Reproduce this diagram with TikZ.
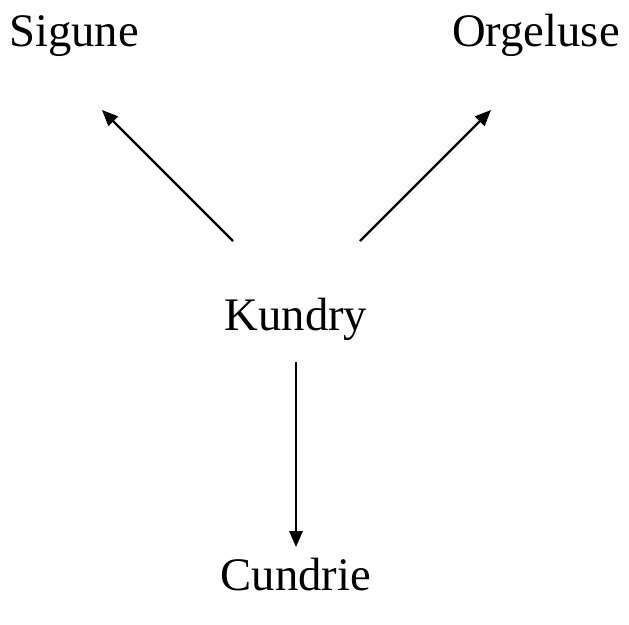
\documentclass[tikz,border=0pt]{standalone}
\usepackage{fontspec}
\setmainfont{Liberation Serif}
\usetikzlibrary{arrows.meta}
\begin{document}
\begin{tikzpicture}[x=0.75pt,y=-0.75pt,
  lbl/.style={font=\fontsize{35}{40}\selectfont, inner sep=0pt, anchor=base},
  arr/.style={line width=1.6pt, -{Triangle[length=12pt,width=10pt]}}]
\useasboundingbox (0,0) rectangle (629,625);
\node[lbl] (sigune) at (74,46) {Sigune};
\node[lbl] (orgeluse) at (536,46) {Orgeluse};
\node[lbl] (kundry) at (296,330) {Kundry};
\node[lbl] (cundrie) at (296,590) {Cundrie};
\coordinate (s1) at (233,241);
\coordinate (s2) at (102,110);
\coordinate (o1) at (360,241);
\coordinate (o2) at (491,110);
\coordinate (k1) at (296,362);
\coordinate (k2) at (296,547);
\draw[arr] (s1) -- (s2);
\draw[arr] (o1) -- (o2);
\draw[arr] (k1) -- (k2);
\end{tikzpicture}
\end{document}
